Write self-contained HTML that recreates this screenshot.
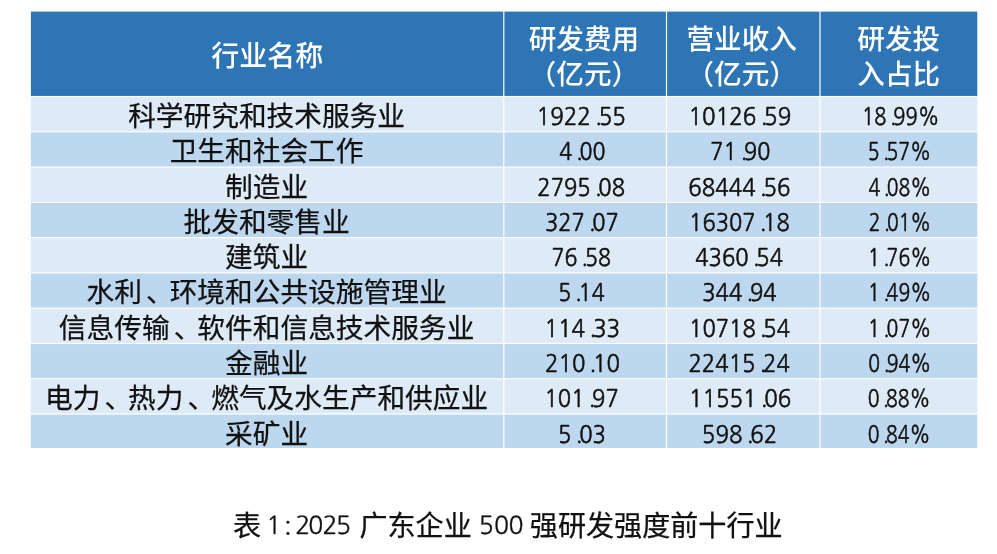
<!DOCTYPE html>
<html lang="zh-CN"><head><meta charset="utf-8"><title>表1：2025广东企业500强研发强度前十行业</title>
<style>
html,body{margin:0;padding:0;background:#fff;}
body{width:997px;height:554px;overflow:hidden;}
svg{display:block;font-family:"Liberation Sans","Noto Sans CJK SC",sans-serif;fill:#111;}
text{white-space:pre;}
.h{fill:#fff;font-weight:500;font-size:27.6px;text-anchor:middle;}
.h1{font-size:28.0px;}
.c{font-size:27.7px;text-anchor:middle;stroke:#111;stroke-width:.25px;}
.n{font-family:"NanumGothic","Liberation Sans",sans-serif;font-size:24.1px;stroke:#111;stroke-width:.55px;text-rendering:geometricPrecision;}
.cap{font-size:28.1px;stroke:#111;stroke-width:.25px;}
.cap.m{font-family:"NanumGothic","Liberation Sans",sans-serif;font-size:24.8px;stroke-width:.3px;text-rendering:geometricPrecision;}
</style></head><body>
<svg width="997" height="554" viewBox="0 0 997 554">
<rect x="30.90" y="11.60" width="472.30" height="84.33" fill="#2E75B6"/>
<rect x="504.40" y="11.60" width="161.50" height="84.33" fill="#2E75B6"/>
<rect x="667.10" y="11.60" width="152.30" height="84.33" fill="#2E75B6"/>
<rect x="820.60" y="11.60" width="156.70" height="84.33" fill="#2E75B6"/>
<rect x="30.90" y="97.08" width="472.30" height="34.13" fill="#DEEAF6"/>
<rect x="504.40" y="97.08" width="161.50" height="34.13" fill="#DEEAF6"/>
<rect x="667.10" y="97.08" width="152.30" height="34.13" fill="#DEEAF6"/>
<rect x="820.60" y="97.08" width="156.70" height="34.13" fill="#DEEAF6"/>
<rect x="30.90" y="132.35" width="472.30" height="34.13" fill="#BDD7EE"/>
<rect x="504.40" y="132.35" width="161.50" height="34.13" fill="#BDD7EE"/>
<rect x="667.10" y="132.35" width="152.30" height="34.13" fill="#BDD7EE"/>
<rect x="820.60" y="132.35" width="156.70" height="34.13" fill="#BDD7EE"/>
<rect x="30.90" y="167.63" width="472.30" height="34.13" fill="#DEEAF6"/>
<rect x="504.40" y="167.63" width="161.50" height="34.13" fill="#DEEAF6"/>
<rect x="667.10" y="167.63" width="152.30" height="34.13" fill="#DEEAF6"/>
<rect x="820.60" y="167.63" width="156.70" height="34.13" fill="#DEEAF6"/>
<rect x="30.90" y="202.91" width="472.30" height="34.13" fill="#BDD7EE"/>
<rect x="504.40" y="202.91" width="161.50" height="34.13" fill="#BDD7EE"/>
<rect x="667.10" y="202.91" width="152.30" height="34.13" fill="#BDD7EE"/>
<rect x="820.60" y="202.91" width="156.70" height="34.13" fill="#BDD7EE"/>
<rect x="30.90" y="238.19" width="472.30" height="34.13" fill="#DEEAF6"/>
<rect x="504.40" y="238.19" width="161.50" height="34.13" fill="#DEEAF6"/>
<rect x="667.10" y="238.19" width="152.30" height="34.13" fill="#DEEAF6"/>
<rect x="820.60" y="238.19" width="156.70" height="34.13" fill="#DEEAF6"/>
<rect x="30.90" y="273.47" width="472.30" height="34.13" fill="#BDD7EE"/>
<rect x="504.40" y="273.47" width="161.50" height="34.13" fill="#BDD7EE"/>
<rect x="667.10" y="273.47" width="152.30" height="34.13" fill="#BDD7EE"/>
<rect x="820.60" y="273.47" width="156.70" height="34.13" fill="#BDD7EE"/>
<rect x="30.90" y="308.75" width="472.30" height="34.13" fill="#DEEAF6"/>
<rect x="504.40" y="308.75" width="161.50" height="34.13" fill="#DEEAF6"/>
<rect x="667.10" y="308.75" width="152.30" height="34.13" fill="#DEEAF6"/>
<rect x="820.60" y="308.75" width="156.70" height="34.13" fill="#DEEAF6"/>
<rect x="30.90" y="344.04" width="472.30" height="34.13" fill="#BDD7EE"/>
<rect x="504.40" y="344.04" width="161.50" height="34.13" fill="#BDD7EE"/>
<rect x="667.10" y="344.04" width="152.30" height="34.13" fill="#BDD7EE"/>
<rect x="820.60" y="344.04" width="156.70" height="34.13" fill="#BDD7EE"/>
<rect x="30.90" y="379.31" width="472.30" height="34.13" fill="#DEEAF6"/>
<rect x="504.40" y="379.31" width="161.50" height="34.13" fill="#DEEAF6"/>
<rect x="667.10" y="379.31" width="152.30" height="34.13" fill="#DEEAF6"/>
<rect x="820.60" y="379.31" width="156.70" height="34.13" fill="#DEEAF6"/>
<rect x="30.90" y="414.59" width="472.30" height="33.41" fill="#BDD7EE"/>
<rect x="504.40" y="414.59" width="161.50" height="33.41" fill="#BDD7EE"/>
<rect x="667.10" y="414.59" width="152.30" height="33.41" fill="#BDD7EE"/>
<rect x="820.60" y="414.59" width="156.70" height="33.41" fill="#BDD7EE"/>
<text class="h h1" x="267.3" y="65.7">行业名称</text>
<text class="h" x="583.9" y="49.4">研发费用</text>
<text class="h" x="583.9" y="83.7">（亿元）</text>
<text class="h" x="741.7" y="49.4">营业收入</text>
<text class="h" x="741.7" y="83.7">（亿元）</text>
<text class="h" x="898.7" y="49.4">研发投</text>
<text class="h" x="898.7" y="83.7">入占比</text>
<text class="c" x="266.6" y="125.9">科学研究和技术服务业</text>
<text class="n" transform="translate(536.53 125.0) scale(0.9308 1)" dx="0 0 0 0 4.6 -3.6 0" dy="0 0 0 0 -1.1 1.1 0">1922.55</text>
<text class="n" transform="translate(688.53 125.0) scale(0.9290 1)" dx="0 0 0 0 0 4.6 -3.6 0" dy="0 0 0 0 0 -1.1 1.1 0">10126.59</text>
<text class="n" transform="translate(862.03 125.0) scale(0.8334 1)" dx="0 0 4.6 -3.6 0 0" dy="0 0 -1.1 1.1 0 0">18.99%</text>
<text class="c" x="266.6" y="161.2">卫生和社会工作</text>
<text class="n" transform="translate(559.20 160.3) scale(0.8884 1)" dx="0 4.6 -3.6 0" dy="0 -1.1 1.1 0">4.00</text>
<text class="n" transform="translate(710.30 160.3) scale(0.9003 1)" dx="0 0 4.6 -3.6 0" dy="0 0 -1.1 1.1 0">71.90</text>
<text class="n" transform="translate(867.79 160.3) scale(0.8115 1)" dx="0 4.6 -3.6 0 0" dy="0 -1.1 1.1 0 0">5.57%</text>
<text class="c" x="266.6" y="196.5">制造业</text>
<text class="n" transform="translate(537.32 195.6) scale(0.9133 1)" dx="0 0 0 0 4.6 -3.6 0" dy="0 0 0 0 -1.1 1.1 0">2795.08</text>
<text class="n" transform="translate(688.37 195.6) scale(0.9231 1)" dx="0 0 0 0 0 4.6 -3.6 0" dy="0 0 0 0 0 -1.1 1.1 0">68444.56</text>
<text class="n" transform="translate(868.45 195.6) scale(0.8027 1)" dx="0 4.6 -3.6 0 0" dy="0 -1.1 1.1 0 0">4.08%</text>
<text class="c" x="266.6" y="231.8">批发和零售业</text>
<text class="n" transform="translate(544.88 230.9) scale(0.9100 1)" dx="0 0 0 4.6 -3.6 0" dy="0 0 0 -1.1 1.1 0">327.07</text>
<text class="n" transform="translate(689.12 230.9) scale(0.9094 1)" dx="0 0 0 0 0 4.6 -3.6 0" dy="0 0 0 0 0 -1.1 1.1 0">16307.18</text>
<text class="n" transform="translate(868.66 230.9) scale(0.7989 1)" dx="0 4.6 -3.6 0 0" dy="0 -1.1 1.1 0 0">2.01%</text>
<text class="c" x="266.6" y="267.1">建筑业</text>
<text class="n" transform="translate(551.54 266.2) scale(0.8896 1)" dx="0 0 4.6 -3.6 0" dy="0 0 -1.1 1.1 0">76.58</text>
<text class="n" transform="translate(695.20 266.2) scale(0.9152 1)" dx="0 0 0 0 4.6 -3.6 0" dy="0 0 0 0 -1.1 1.1 0">4360.54</text>
<text class="n" transform="translate(868.11 266.2) scale(0.8065 1)" dx="0 4.6 -3.6 0 0" dy="0 -1.1 1.1 0 0">1.76%</text>
<text class="c" x="266.6" y="302.3" dx="0 0 4 -4 0 0 0 0 0 0 0 0 0">水利、环境和公共设施管理业</text>
<text class="n" transform="translate(558.16 301.4) scale(0.8920 1)" dx="0 4.6 -3.6 0" dy="0 -1.1 1.1 0">5.14</text>
<text class="n" transform="translate(702.23 301.4) scale(0.9149 1)" dx="0 0 0 4.6 -3.6 0" dy="0 0 0 -1.1 1.1 0">344.94</text>
<text class="n" transform="translate(868.11 301.4) scale(0.8065 1)" dx="0 4.6 -3.6 0 0" dy="0 -1.1 1.1 0 0">1.49%</text>
<text class="c" x="266.6" y="337.6" dx="0 0 0 0 4 -4 0 0 0 0 0 0 0 0 0">信息传输、软件和信息技术服务业</text>
<text class="n" transform="translate(544.38 336.7) scale(0.9317 1)" dx="0 0 0 4.6 -3.6 0" dy="0 0 0 -1.1 1.1 0">114.33</text>
<text class="n" transform="translate(689.11 336.7) scale(0.9120 1)" dx="0 0 0 0 0 4.6 -3.6 0" dy="0 0 0 0 0 -1.1 1.1 0">10718.54</text>
<text class="n" transform="translate(868.11 336.7) scale(0.8065 1)" dx="0 4.6 -3.6 0 0" dy="0 -1.1 1.1 0 0">1.07%</text>
<text class="c" x="266.6" y="372.9">金融业</text>
<text class="n" transform="translate(544.95 372.0) scale(0.9224 1)" dx="0 0 0 4.6 -3.6 0" dy="0 0 0 -1.1 1.1 0">210.10</text>
<text class="n" transform="translate(688.43 372.0) scale(0.9178 1)" dx="0 0 0 0 0 4.6 -3.6 0" dy="0 0 0 0 0 -1.1 1.1 0">22415.24</text>
<text class="n" transform="translate(868.21 372.0) scale(0.8057 1)" dx="0 4.6 -3.6 0 0" dy="0 -1.1 1.1 0 0">0.94%</text>
<text class="c" x="266.6" y="408.2" dx="0 0 4 -4 0 4 -4 0 0 0 0 0 0 0 0 0">电力、热力、燃气及水生产和供应业</text>
<text class="n" transform="translate(544.46 407.3) scale(0.9134 1)" dx="0 0 0 4.6 -3.6 0" dy="0 0 0 -1.1 1.1 0">101.97</text>
<text class="n" transform="translate(688.90 407.3) scale(0.9253 1)" dx="0 0 0 0 0 4.6 -3.6 0" dy="0 0 0 0 0 -1.1 1.1 0">11551.06</text>
<text class="n" transform="translate(867.68 407.3) scale(0.8039 1)" dx="0 4.6 -3.6 0 0" dy="0 -1.1 1.1 0 0">0.88%</text>
<text class="c" x="266.6" y="443.5">采矿业</text>
<text class="n" transform="translate(558.12 442.6) scale(0.9183 1)" dx="0 4.6 -3.6 0" dy="0 -1.1 1.1 0">5.03</text>
<text class="n" transform="translate(701.87 442.6) scale(0.9274 1)" dx="0 0 0 4.6 -3.6 0" dy="0 0 0 -1.1 1.1 0">598.62</text>
<text class="n" transform="translate(867.68 442.6) scale(0.8039 1)" dx="0 4.6 -3.6 0 0" dy="0 -1.1 1.1 0 0">0.84%</text>
<text class="cap" x="232.9" y="536.4">表</text>
<text class="cap m" x="266.3 284.1 295.15 308.2 322.55 336" y="534.4" dy="0 2.9 -2.9">1:2025</text>
<text class="cap" x="359.4" y="536.4">广东企业</text>
<text class="cap m" x="478.8 493.9 508.4" y="534.4">500</text>
<text class="cap" x="529.8" y="536.4">强研发强度前十行业</text>
</svg>
</body></html>
